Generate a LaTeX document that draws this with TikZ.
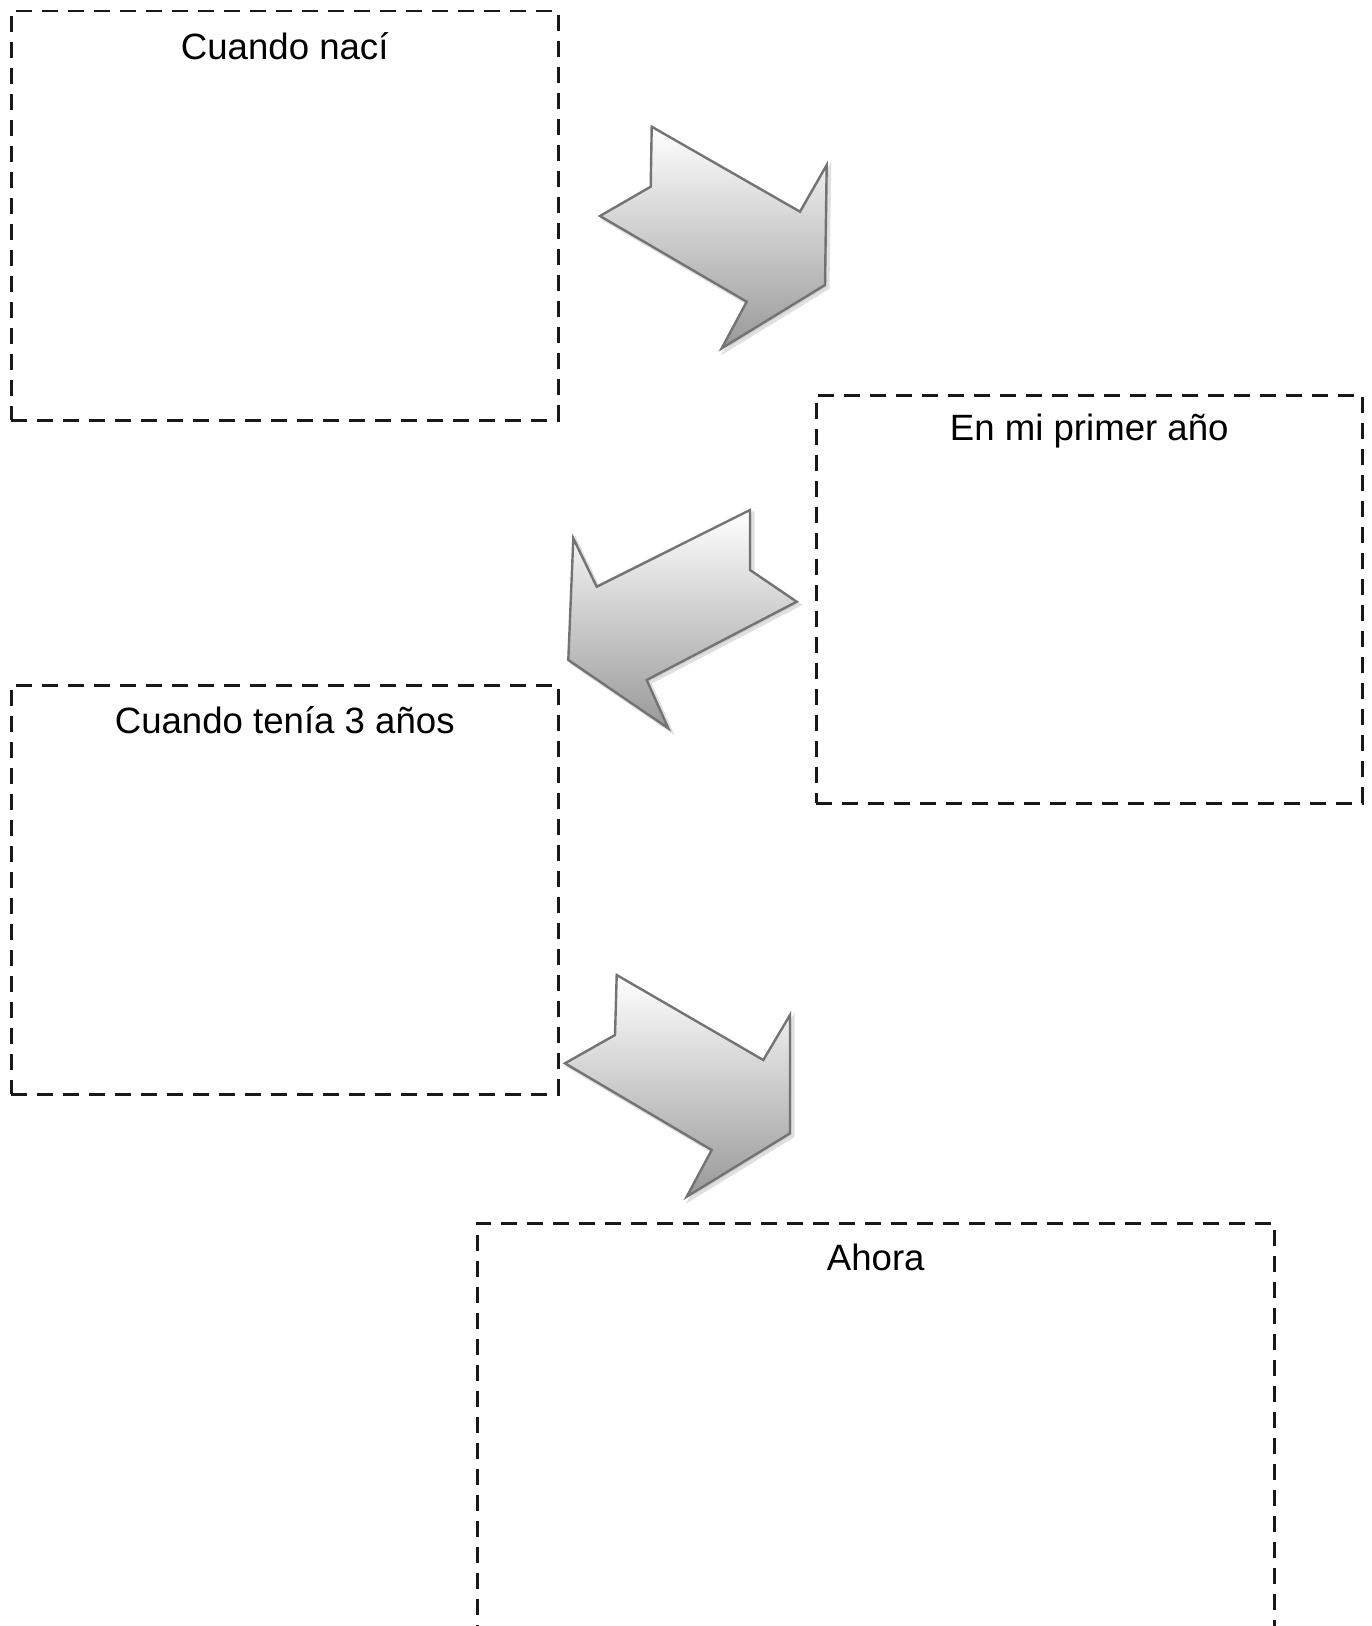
\documentclass[tikz,border=0pt]{standalone}
\usepackage{fontspec}
\setmainfont{Liberation Sans}
\usetikzlibrary{calc}
\tikzset{
  dbox/.style={draw=black!90, line width=1.25pt, dash pattern=on 8pt off 5pt, inner sep=0pt},
  btitle/.style={font=\fontsize{18.3}{21}\selectfont, text=black, inner sep=0pt},
  arrowfill/.style={top color=white, bottom color=black!40, draw=black!55, line width=1.2pt, line join=miter},
  arrowshadow/.style={fill=black!18, draw=black!12, line width=1.5pt}
}
\begin{document}
\begin{tikzpicture}[x=0.5pt,y=-0.5pt]
\useasboundingbox (0,0) rectangle (1371,1626);
\clip (0,0) rectangle (1371,1626);
% boxes
\node[dbox, minimum width=273.5pt, minimum height=204.5pt, anchor=north west] (b1) at (10,10) {};
\node[dbox, minimum width=273pt, minimum height=204pt, anchor=north west] (b2) at (815,394) {};
\node[dbox, minimum width=273.5pt, minimum height=204.5pt, anchor=north west] (b3) at (10,684) {};
\node[dbox, minimum width=398.5pt, minimum height=250pt, anchor=north west] (b4) at (476,1222) {};
% titles
\node[btitle] (t1) at ($(b1.north)+(0,36)$) {Cuando nací};
\node[btitle] (t2) at ($(b2.north)+(0,37)$) {En mi primer año};
\node[btitle] (t3) at ($(b3.north)+(0,36)$) {Cuando tenía 3 años};
\node[btitle] (t4) at ($(b4.north)+(0,35)$) {Ahora};
% arrow 1
\begin{scope}[shift={(3,3)}]
\fill[arrowshadow] (651.7,126.7) -- (800,211.7) -- (826.7,165) -- (825,285) -- (721.7,348.3) -- (746.7,301.7) -- (600,216) -- (650.7,186.7) -- cycle;
\end{scope}
\shade[arrowfill] (651.7,126.7) -- (800,211.7) -- (826.7,165) -- (825,285) -- (721.7,348.3) -- (746.7,301.7) -- (600,216) -- (650.7,186.7) -- cycle;
% arrow 2
\begin{scope}[shift={(3,3)}]
\fill[arrowshadow] (750,510) -- (750,570) -- (796.7,601.7) -- (646.7,680) -- (668.3,728.3) -- (568.3,660) -- (573.3,538.3) -- (596.7,586.7) -- cycle;
\end{scope}
\shade[arrowfill] (750,510) -- (750,570) -- (796.7,601.7) -- (646.7,680) -- (668.3,728.3) -- (568.3,660) -- (573.3,538.3) -- (596.7,586.7) -- cycle;
% arrow 3
\begin{scope}[shift={(3,3)}]
\fill[arrowshadow] (616.7,975) -- (763.3,1060) -- (790,1015) -- (790,1133.3) -- (686.7,1196.7) -- (711.7,1150) -- (565,1063.3) -- (615,1035) -- cycle;
\end{scope}
\shade[arrowfill] (616.7,975) -- (763.3,1060) -- (790,1015) -- (790,1133.3) -- (686.7,1196.7) -- (711.7,1150) -- (565,1063.3) -- (615,1035) -- cycle;
\end{tikzpicture}
\end{document}
